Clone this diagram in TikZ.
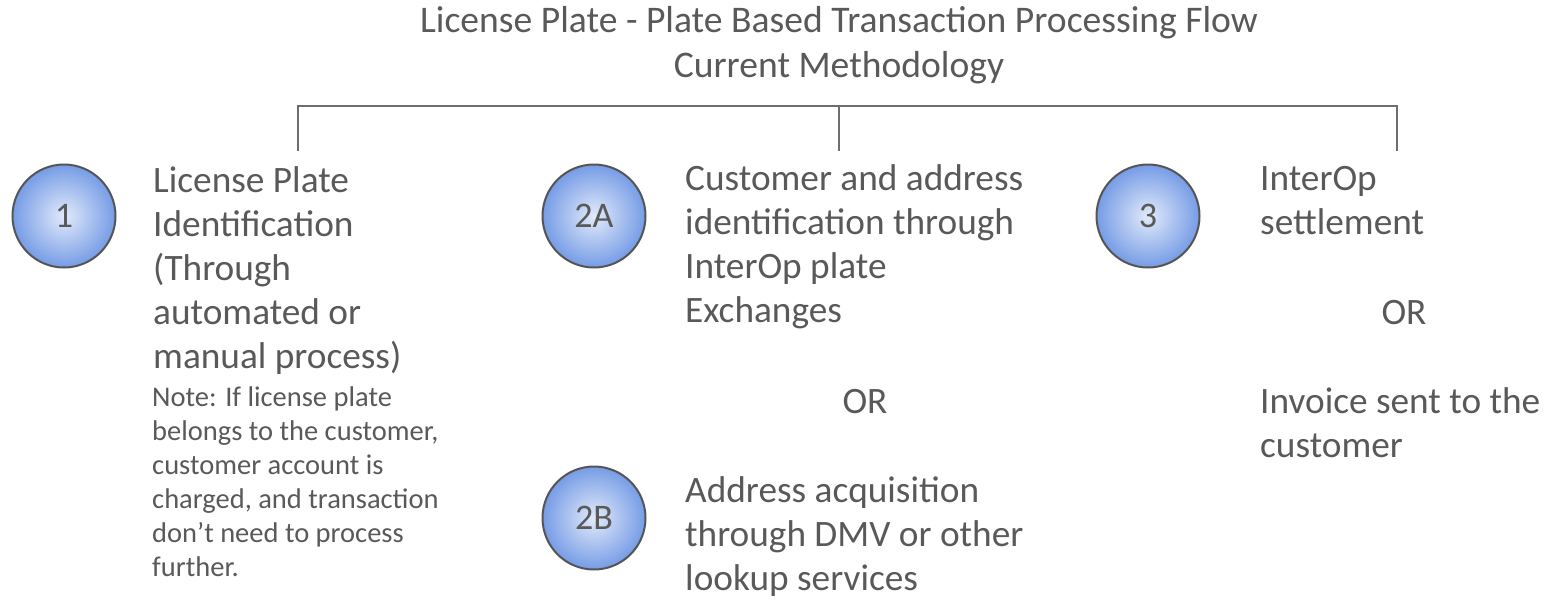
\documentclass[tikz,border=0pt]{standalone}
\usepackage{fontspec}
\setmainfont{Carlito}
\definecolor{txtgray}{RGB}{89,89,89}
\definecolor{rimgray}{RGB}{85,85,85}
\definecolor{bargray}{RGB}{110,110,110}
\definecolor{bubin}{RGB}{226,234,250}
\definecolor{bubout}{RGB}{118,156,230}

\begin{document}
\begin{tikzpicture}[x=1pt,y=-1pt,
  ttl/.style={font=\fontsize{37.6}{45}\selectfont, text=txtgray, align=center, anchor=north, inner sep=0pt},
  body/.style={font=\fontsize{37.3}{44}\selectfont, text=txtgray, align=left, anchor=north west, inner sep=0pt},
  small/.style={font=\fontsize{28.5}{34}\selectfont, text=txtgray, align=left, anchor=north west, inner sep=0pt},
  ortext/.style={font=\fontsize{37.3}{44}\selectfont, text=txtgray, anchor=base, inner sep=0pt},
  bubble/.style={circle, draw=rimgray, line width=2pt, minimum size=103pt, inner sep=0pt,
    inner color=bubin, outer color=bubout, text=txtgray, font=\fontsize{36}{40}\selectfont},
  bar/.style={draw=bargray, line width=1.8pt}]
\useasboundingbox (0,0) rectangle (1549,600);
\node[ttl] (title) at (839,0.5) {\strut License Plate - Plate Based Transaction Processing Flow\\ Current Methodology};
\coordinate (bartop) at (839,106);
\coordinate (leg1) at (298,151);
\coordinate (leg2) at (839,151);
\coordinate (leg3) at (1397,151);
\draw[bar] (leg1) |- (bartop) -| (leg3);
\draw[bar] (bartop) -- (leg2);
\node[bubble] (b1) at (64,216) {1};
\node[bubble] (b2a) at (594,216) {2A};
\node[bubble] (b2b) at (594,518) {2B};
\node[bubble] (b3) at (1148,216) {3};
\node[body] (t1) at (153,161.2) {\strut License Plate\\ Identification\\ (Through\\ automated or\\ manual process)};
\node[small] (note1) at (152,382.2) {\strut Note: If license plate\\ belongs to the customer,\\ customer account is\\ charged, and transaction\\ don’t need to process\\ further.};
\node[body] (t2a) at (685,159.2) {\strut Customer and address\\ identification through\\ InterOp plate\\ Exchanges};
\node[ortext] (or2) at (865,413) {OR};
\node[body] (t2b) at (685,471.2) {\strut Address acquisition\\ through DMV or other\\ lookup services};
\node[body] (t3) at (1260,159.2) {\strut InterOp\\ settlement};
\node[ortext] (or3) at (1404,324) {OR};
\node[body] (t3b) at (1260,382.2) {\strut Invoice sent to the\\ customer};
\end{tikzpicture}
\end{document}
